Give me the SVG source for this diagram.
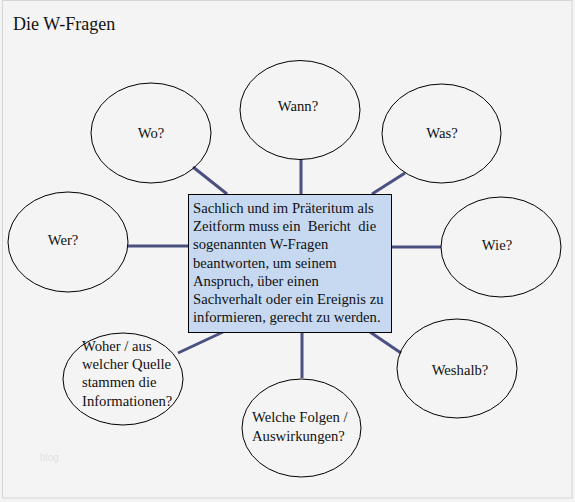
<svg xmlns="http://www.w3.org/2000/svg" width="575" height="502" viewBox="0 0 575 502">
<style>
.t{font-family:"Liberation Serif","Times New Roman",serif;font-size:14.67px;fill:#111;white-space:pre}
.e{fill:none;stroke:#000;stroke-width:1}
.c{stroke:#4a5080;stroke-width:3;fill:none}
</style>
<rect x="0" y="0" width="575" height="502" fill="#f4f4f4"/>
<rect x="2.5" y="0.5" width="569.5" height="497.5" fill="none" stroke="#d6d6d6" stroke-width="1"/>
<text x="13" y="30" font-family="Liberation Serif,serif" font-size="18" fill="#111">Die W-Fragen</text>
<text x="40" y="461" font-family="Liberation Sans,sans-serif" font-size="10" fill="#e2e2e2">blog</text>
<g id="connectors">
<line class="c" x1="193" y1="167" x2="227" y2="194"/>
<line class="c" x1="301" y1="159" x2="301" y2="194"/>
<line class="c" x1="405" y1="173" x2="372" y2="194"/>
<line class="c" x1="128" y1="246" x2="188" y2="246"/>
<line class="c" x1="392" y1="247" x2="441" y2="247"/>
<line class="c" x1="370" y1="332" x2="401" y2="353"/>
<line class="c" x1="223" y1="332" x2="178" y2="353"/>
<line class="c" x1="302" y1="332" x2="302" y2="378"/>
</g>
<g id="center">
<rect x="188.5" y="194.5" width="203" height="138" fill="#c6d9f1" stroke="#000" stroke-width="1"/>
<text class="t" x="193" y="213">Sachlich und im Präteritum als</text>
<text class="t" x="193" y="231" xml:space="preserve">Zeitform muss ein  Bericht  die</text>
<text class="t" x="193" y="249">sogenannten W-Fragen</text>
<text class="t" x="193" y="268">beantworten, um seinem</text>
<text class="t" x="193" y="286">Anspruch, über einen</text>
<text class="t" x="193" y="304">Sachverhalt oder ein Ereignis zu</text>
<text class="t" x="193" y="322">informieren, gerecht zu werden.</text>
</g>
<g id="wo"><ellipse class="e" cx="151" cy="133" rx="60" ry="50"/><text class="t" x="151" y="138" text-anchor="middle">Wo?</text></g>
<g id="wann"><ellipse class="e" cx="300" cy="110" rx="60" ry="49.5"/><text class="t" x="298" y="111" text-anchor="middle">Wann?</text></g>
<g id="was"><ellipse class="e" cx="441.5" cy="133.5" rx="59.5" ry="49.5"/><text class="t" x="442" y="138" text-anchor="middle">Was?</text></g>
<g id="wer"><ellipse class="e" cx="68" cy="242" rx="60" ry="50"/><text class="t" x="63" y="245" text-anchor="middle">Wer?</text></g>
<g id="wie"><ellipse class="e" cx="501" cy="247" rx="60" ry="50"/><text class="t" x="497" y="250" text-anchor="middle">Wie?</text></g>
<g id="weshalb"><ellipse class="e" cx="457" cy="368.5" rx="60" ry="49.5"/><text class="t" x="460" y="375" text-anchor="middle">Weshalb?</text></g>
<g id="welche"><ellipse class="e" cx="301.5" cy="428" rx="59.5" ry="49"/><text class="t" x="252" y="422">Welche Folgen /</text><text class="t" x="252" y="441">Auswirkungen?</text></g>
<g id="woher"><ellipse class="e" cx="123" cy="379" rx="60" ry="46"/><text class="t" x="82" y="351">Woher / aus</text><text class="t" x="82" y="369">welcher Quelle</text><text class="t" x="82" y="387">stammen die</text><text class="t" x="82" y="406">Informationen?</text></g>
</svg>
